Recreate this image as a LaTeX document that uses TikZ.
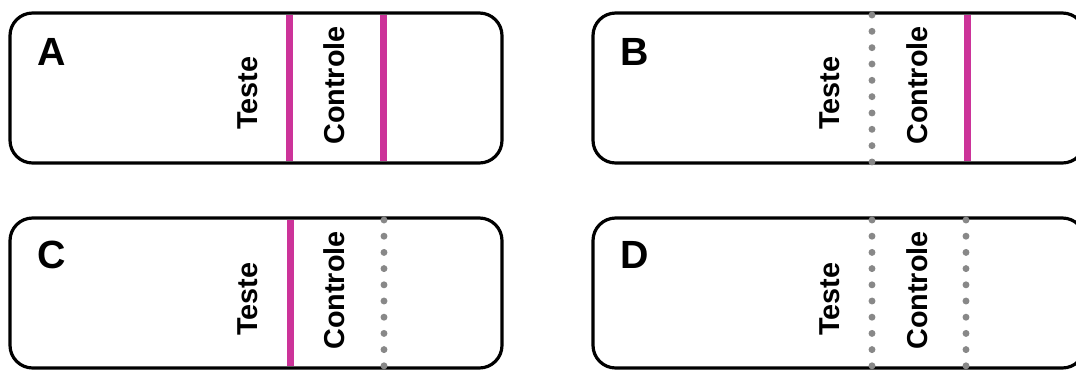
\documentclass[tikz,border=0pt]{standalone}
\usepackage{fontspec}
\setmainfont{Liberation Sans}
\definecolor{mag}{HTML}{CC3399}
\definecolor{dotgray}{HTML}{888888}
\begin{document}
\begin{tikzpicture}[x=0.75pt,y=-0.75pt,
  stripbox/.style={draw=black, line width=2.4pt, rounded corners=17pt},
  posline/.style={draw=mag, line width=5.25pt},
  dotcol/.style={fill=dotgray},
  lbl/.style={font=\fontsize{29.5}{29.5}\selectfont\bfseries, inner sep=0pt, anchor=base west},
  vtxt/.style={font=\fontsize{21.6}{21.6}\selectfont\bfseries, inner sep=0pt, anchor=base west, rotate=90}]
\useasboundingbox (0,0) rectangle (1076,369);
\clip (0,0) rectangle (1076,369);
% ---------- A ----------
\draw[posline] (289,15) -- (289,161);
\draw[posline] (383,15) -- (383,161);
\draw[stripbox] (10,13) rectangle (502,163);
\node[lbl] (labA) at (37,65) {A};
\node[vtxt] (testeA) at (257,130) {Teste};
\node[vtxt] (controleA) at (344,145) {Controle};
% ---------- B ----------
\draw[posline] (967,15) -- (967,161);
\draw[stripbox] (593,13) rectangle (1085,163);
\foreach \i in {0,...,9} \fill[dotcol] (872,15+\i*16.33) circle (2.6pt);
\node[lbl] (labB) at (620,65) {B};
\node[vtxt] (testeB) at (839,130) {Teste};
\node[vtxt] (controleB) at (927,145) {Controle};
% ---------- C ----------
\draw[posline] (290,220) -- (290,366);
\draw[stripbox] (10,218) rectangle (502,368);
\foreach \i in {0,...,9} \fill[dotcol] (384,220+\i*16.2) circle (2.6pt);
\node[lbl] (labC) at (37,268) {C};
\node[vtxt] (testeC) at (257,336) {Teste};
\node[vtxt] (controleC) at (344,350) {Controle};
% ---------- D ----------
\draw[stripbox] (593,218) rectangle (1085,368);
\foreach \i in {0,...,9} \fill[dotcol] (872,220+\i*16.2) circle (2.6pt);
\foreach \i in {0,...,9} \fill[dotcol] (966,220+\i*16.2) circle (2.6pt);
\node[lbl] (labD) at (620,268) {D};
\node[vtxt] (testeD) at (839,336) {Teste};
\node[vtxt] (controleD) at (927,350) {Controle};
\end{tikzpicture}
\end{document}
